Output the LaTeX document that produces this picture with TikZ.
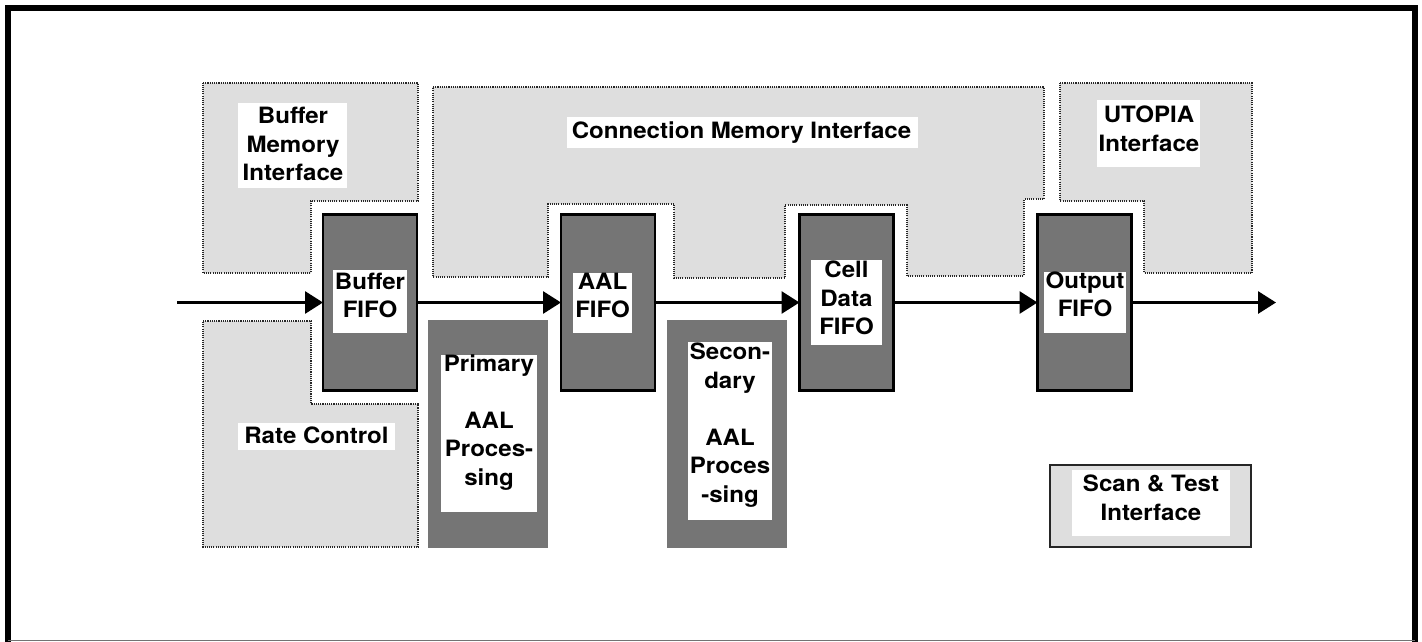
\documentclass[tikz,border=0pt]{standalone}
\usepackage{fontspec}
\setmainfont{TeX Gyre Heros}[FakeStretch=1.07]
\usetikzlibrary{arrows.meta}
\tikzset{
  zone/.style={fill=black!13, draw=black!85, line width=1.1pt, dash pattern=on 1.1pt off 1.1pt},
  fifo/.style={rectangle, fill=black!54, draw=black, line width=2.5pt,
    minimum width=94pt, minimum height=176pt, inner sep=0pt, outer sep=0pt},
  procbox/.style={rectangle, fill=black!54, inner sep=0pt, minimum width=120pt, minimum height=228pt},
  testbox/.style={rectangle, fill=black!13, draw=black!85, line width=2pt, inner sep=0pt,
    minimum width=201pt, minimum height=82pt},
  patch/.style={fill=white},
  lbl/.style={inner sep=0pt, align=center, font=\fontsize{22.5}{28.5}\selectfont\bfseries},
  flow/.style={line width=3pt, -{Triangle[length=18pt,width=22pt]}},
  frame/.style={line width=6pt},
}
\begin{document}
\begin{tikzpicture}[x=1pt,y=-1pt]
\useasboundingbox (0,0) rectangle (1422,642);
\clip (0,0) rectangle (1422,642);

% outer frame
\draw[frame] (8,645) -- (8,8) -- (1414.5,8) -- (1414.5,645);
\draw[black!55, line width=1.2pt] (8,640.5) -- (1414.5,640.5);

% interface zones
\draw[zone] (203,83) -- (418,83) -- (418,201) -- (311,201) -- (311,273) -- (203,273) -- cycle;
\draw[zone] (203,321) -- (311,321) -- (311,404) -- (418,404) -- (418,547) -- (203,547) -- cycle;
\draw[zone] (433,87) -- (1044,87) -- (1044,199) -- (1024,199) -- (1024,276) -- (907,276)
  -- (907,205) -- (785,205) -- (785,278) -- (674,278) -- (674,204) -- (548,204)
  -- (548,277) -- (433,277) -- cycle;
\draw[zone] (1060,83) -- (1252,83) -- (1252,273) -- (1144,273) -- (1144,201) -- (1060,201) -- cycle;

% FIFO stages on the data path
\node[fifo] (bf) at (370,302.5) {};
\node[fifo] (af) at (608,302.5) {};
\node[fifo] (cf) at (846.5,302.5) {};
\node[fifo] (of) at (1084.5,302.5) {};

% processing blocks and test interface
\node[procbox] (pp) at (488,434) {};
\node[procbox] (sp) at (727,434) {};
\node[testbox] (st) at (1150.5,506) {};

% white label areas
\fill[patch] (238,103) rectangle (347,188);
\fill[patch] (238,423) rectangle (395,450);
\fill[patch] (567,117) rectangle (918,148);
\fill[patch] (1097,100) rectangle (1200,167);
\fill[patch] (333,270) rectangle (407,333);
\fill[patch] (573,273) rectangle (632,333);
\fill[patch] (811,260) rectangle (882,345);
\fill[patch] (1044,272) rectangle (1126,333);
\fill[patch] (441,355) rectangle (537,512);
\fill[patch] (688,342) rectangle (772,520);
\fill[patch] (1072,470) rectangle (1230,536);

% labels
\node[lbl] (tbm) at (293,146.5) {\strut Buffer\\\strut Memory\\\strut Interface};
\node[lbl] (trc) at (316.5,437.6) {\strut Rate Control};
\node[lbl] (tcm) at (741.5,132.6) {\strut Connection Memory Interface};
\node[lbl] (tut) at (1149,131.3) {\strut UTOPIA\\\strut Interface};
\node[lbl] (tbf) at (370,297.8) {\strut Buffer\\\strut FIFO};
\node[lbl] (taf) at (602.5,297.8) {\strut AAL\\\strut FIFO};
\node[lbl] (tcf) at (846.5,300.3) {\strut Cell\\\strut Data\\\strut FIFO};
\node[lbl] (tof) at (1085,296.8) {\strut Output\\\strut FIFO};
\node[lbl] (tpp) at (489,422.3) {\strut Primary\\\strut\\\strut AAL\\\strut Proces-\\\strut sing};
\node[lbl] (tsp) at (730,425.3) {\strut Secon-\\\strut dary\\\strut\\\strut AAL\\\strut Proces\\\strut -sing};
\node[lbl] (tst) at (1151,500.3) {\strut Scan \& Test\\\strut Interface};

% data path
\coordinate (in) at (177,302.5);
\coordinate (out) at (1276,302.5);
\draw[flow] (in) -- (bf.west);
\draw[flow] (bf.east) -- (af.west);
\draw[flow] (af.east) -- (cf.west);
\draw[flow] (cf.east) -- (of.west);
\draw[flow] (of.east) -- (out);
\end{tikzpicture}
\end{document}
